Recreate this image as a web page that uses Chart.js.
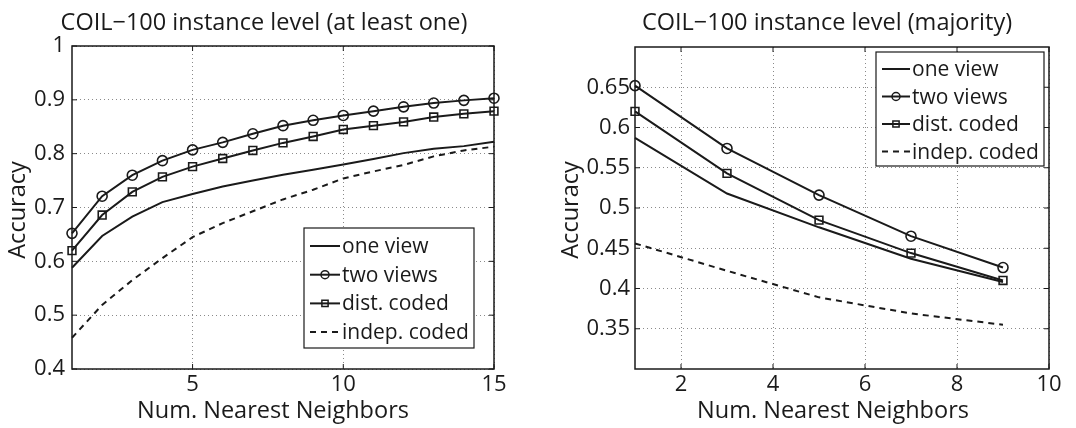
<!DOCTYPE html>
<html><head><meta charset="utf-8">
<script src="https://cdn.jsdelivr.net/npm/chart.js@4"></script>
<style>
html,body{margin:0;padding:0;background:#fff;}
#wrap{position:relative;width:1076px;height:428px;overflow:hidden;}
canvas{position:absolute;top:0;}
</style></head>
<body><div id="wrap"><canvas id="c1" width="538" height="428" style="left:0"></canvas><canvas id="c2" width="538" height="428" style="left:538px"></canvas></div>
<script>
// ---------- data ----------
const seriesNames = ['one view', 'two views', 'dist. coded', 'indep. coded'];

const leftTitle = 'COIL\u2212100 instance level (at least one)';
const leftK = [1,2,3,4,5,6,7,8,9,10,11,12,13,14,15];
const leftOneView   = [0.588,0.647,0.683,0.710,0.725,0.739,0.750,0.761,0.770,0.780,0.790,0.801,0.809,0.814,0.822];
const leftTwoViews  = [0.652,0.721,0.760,0.787,0.807,0.821,0.837,0.852,0.862,0.871,0.879,0.887,0.894,0.899,0.903];
const leftDistCoded = [0.620,0.686,0.729,0.757,0.776,0.791,0.806,0.820,0.832,0.845,0.852,0.859,0.868,0.874,0.879];
const leftIndepCoded= [0.458,0.519,0.565,0.606,0.645,0.671,0.693,0.715,0.733,0.754,0.767,0.779,0.795,0.806,0.813];
const leftXTicks = [5, 10, 15];
const leftYTicks = [0.4, 0.5, 0.6, 0.7, 0.8, 0.9, 1];

const rightTitle = 'COIL\u2212100 instance level (majority)';
const rightK = [1,3,5,7,9];
const rightOneView   = [0.587,0.518,0.476,0.437,0.408];
const rightTwoViews  = [0.652,0.574,0.516,0.465,0.426];
const rightDistCoded = [0.620,0.543,0.485,0.444,0.410];
const rightIndepCoded= [0.456,0.422,0.389,0.369,0.355];
const rightXTicks = [2, 4, 6, 8, 10];
const rightYTicks = [0.35, 0.4, 0.45, 0.5, 0.55, 0.6, 0.65];

const xLabel = 'Num. Nearest Neighbors';
const yLabel = 'Accuracy';

// ---------- style ----------
const FONT = "'Open Sans', 'DejaVu Sans', sans-serif";
const INK = '#1a1a1a';
const LABEL_SIZE = 23.5;
const TICK_SIZE = 22;
const styles = [
  {pointStyle: false, pointRadius: 0, borderDash: []},
  {pointStyle: 'circle', pointRadius: 5, borderDash: []},
  {pointStyle: 'rect', pointRadius: 5.5, borderDash: []},
  {pointStyle: false, pointRadius: 0, borderDash: [6, 5]}
];

function fmt(v){ return String(Number(v.toFixed(3))); }

function mkDatasets(k, arrays){
  return arrays.map((vals, i) => ({
    label: seriesNames[i],
    data: k.map((x, j) => ({x: x, y: vals[j]})),
    borderColor: INK,
    borderWidth: 2,
    borderDash: styles[i].borderDash,
    pointStyle: styles[i].pointStyle,
    pointRadius: styles[i].pointRadius,
    pointBorderWidth: 1.6,
    pointBorderColor: INK,
    pointBackgroundColor: 'rgba(0,0,0,0)',
    tension: 0,
    clip: false,
    fill: false
  }));
}

function decoPlugin(g){
  return {
    id: 'deco',
    afterDraw(chart){
      const ctx = chart.ctx;
      const a = chart.chartArea;
      const xs = chart.scales.x, ys = chart.scales.y;
      ctx.save();
      // box
      ctx.strokeStyle = INK; ctx.lineWidth = 1.5; ctx.setLineDash([]);
      ctx.strokeRect(a.left, a.top, a.right - a.left, a.bottom - a.top);
      // inward ticks
      ctx.lineWidth = 1;
      const tl = 5;
      xs.ticks.forEach(t => {
        const p = xs.getPixelForValue(t.value);
        ctx.beginPath();
        ctx.moveTo(p, a.bottom); ctx.lineTo(p, a.bottom - tl);
        ctx.moveTo(p, a.top); ctx.lineTo(p, a.top + tl);
        ctx.stroke();
      });
      ys.ticks.forEach(t => {
        const p = ys.getPixelForValue(t.value);
        ctx.beginPath();
        ctx.moveTo(a.left, p); ctx.lineTo(a.left + tl, p);
        ctx.moveTo(a.right, p); ctx.lineTo(a.right - tl, p);
        ctx.stroke();
      });
      // titles
      ctx.fillStyle = INK;
      ctx.textAlign = 'center'; ctx.textBaseline = 'middle';
      ctx.font = LABEL_SIZE + 'px ' + FONT;
      ctx.fillText(g.title, g.titleX, g.titleY);
      ctx.fillText(xLabel, g.xlabX, g.xlabY);
      ctx.save();
      ctx.translate(g.ylabX, g.ylabY);
      ctx.rotate(-Math.PI/2);
      ctx.fillText(yLabel, 0, 0);
      ctx.restore();
      // legend
      const L = g.legend;
      ctx.fillStyle = '#fff';
      ctx.fillRect(L.x, L.y, L.w, L.h);
      ctx.strokeStyle = INK; ctx.lineWidth = 1.2;
      ctx.strokeRect(L.x, L.y, L.w, L.h);
      ctx.font = L.font + 'px ' + FONT;
      ctx.textAlign = 'left'; ctx.textBaseline = 'alphabetic';
      chart.data.datasets.forEach((ds, i) => {
        const base = L.y + L.first + i * L.step;
        const ly = base - L.lineOff;
        ctx.strokeStyle = INK; ctx.lineWidth = 2;
        ctx.setLineDash(ds.borderDash || []);
        ctx.beginPath(); ctx.moveTo(L.x + L.s0, ly); ctx.lineTo(L.x + L.s1, ly); ctx.stroke();
        ctx.setLineDash([]);
        if (ds.pointStyle) {
          ctx.lineWidth = 1.5;
          ctx.fillStyle = 'rgba(0,0,0,0)';
          Chart.helpers.drawPoint(ctx, {pointStyle: ds.pointStyle, radius: ds.pointRadius * 0.8, borderWidth: 1.5, rotation: 0},
            L.x + (L.s0 + L.s1) / 2, ly);
        }
        ctx.fillStyle = INK;
        ctx.fillText(ds.label, L.x + L.tx, base);
      });
      ctx.restore();
    }
  };
}

function makeChart(id, g){
  return new Chart(document.getElementById(id), {
    type: 'line',
    data: {datasets: mkDatasets(g.k, g.series)},
    options: {
      responsive: false, animation: false, events: [],
      layout: {padding: {left: 0, right: g.padR, top: g.padT, bottom: 0}},
      plugins: {legend: {display: false}, title: {display: false}, tooltip: {enabled: false}},
      scales: {
        x: {
          type: 'linear', min: g.xmin, max: g.xmax,
          afterBuildTicks: s => { s.ticks = g.xTicks.map(v => ({value: v})); },
          afterFit: s => { s.height = g.xH; },
          grid: {color: '#8a8a8a', lineWidth: 1, drawTicks: false},
          border: {display: false, dash: [1, 3]},
          ticks: {font: {family: FONT, size: TICK_SIZE}, color: INK, padding: g.xTickPad, maxRotation: 0, autoSkip: false, callback: v => fmt(v)}
        },
        y: {
          type: 'linear', min: g.ymin, max: g.ymax,
          afterBuildTicks: s => { s.ticks = g.yTicks.map(v => ({value: v})); },
          afterFit: s => { s.width = g.yW; },
          grid: {color: '#8a8a8a', lineWidth: 1, drawTicks: false},
          border: {display: false, dash: [1, 3]},
          ticks: {font: {family: FONT, size: TICK_SIZE}, color: INK, padding: g.yTickPad, autoSkip: false, callback: v => fmt(v)}
        }
      }
    },
    plugins: [decoPlugin(g)]
  });
}

makeChart('c1', {
  k: leftK, series: [leftOneView, leftTwoViews, leftDistCoded, leftIndepCoded],
  xmin: 1, xmax: 15, ymin: 0.4, ymax: 1, xTicks: leftXTicks, yTicks: leftYTicks,
  padR: 44, padT: 46, xH: 59, yW: 72, xTickPad: 3, yTickPad: 7,
  title: leftTitle, titleX: 264, titleY: 23,
  xlabX: 273, xlabY: 411, ylabX: 18, ylabY: 210,
  legend: {x: 304, y: 228, w: 170, h: 120, font: 21, first: 25, step: 28.7, lineOff: 7, s0: 6, s1: 36, tx: 38}
});

makeChart('c2', {
  k: rightK, series: [rightOneView, rightTwoViews, rightDistCoded, rightIndepCoded],
  xmin: 1, xmax: 10, ymin: 0.3, ymax: 0.7, xTicks: rightXTicks, yTicks: rightYTicks,
  padR: 27, padT: 47, xH: 59, yW: 97, xTickPad: 3, yTickPad: 5,
  title: rightTitle, titleX: 289, titleY: 23,
  xlabX: 295, xlabY: 411, ylabX: 33, ylabY: 210,
  legend: {x: 338, y: 52, w: 168, h: 114, font: 21, first: 24, step: 27.5, lineOff: 7, s0: 6, s1: 34, tx: 36}
});
</script>
</body></html>
